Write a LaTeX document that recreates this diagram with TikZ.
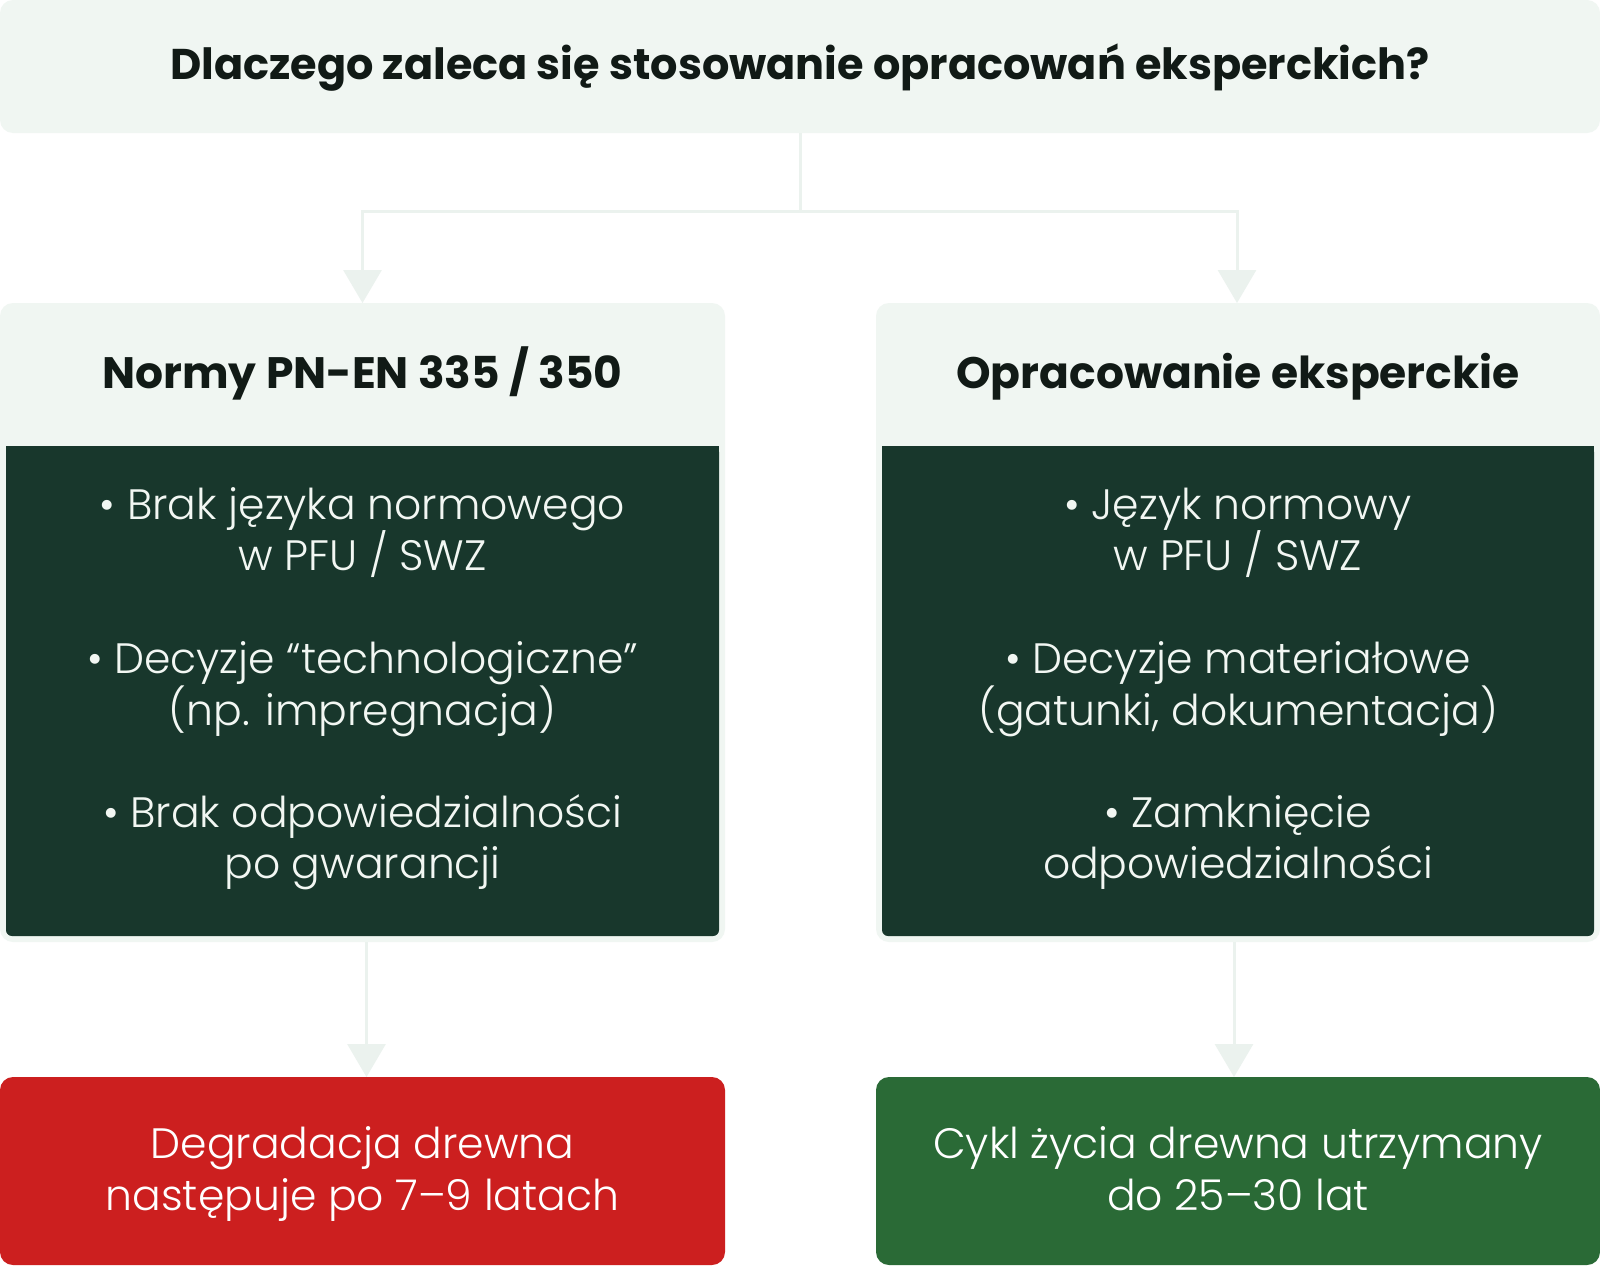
\documentclass[tikz,border=0pt]{standalone}
\usepackage{fontspec}
\setmainfont{Poppins}
\newfontfamily\lightfont{Poppins Light}
\usetikzlibrary{arrows.meta}
\definecolor{lightbg}{HTML}{F0F6F2}
\definecolor{darkg}{HTML}{18372C}
\definecolor{redb}{HTML}{CC1F1F}
\definecolor{greenb}{HTML}{2A6A36}
\definecolor{ink}{HTML}{111A16}
\definecolor{paper}{HTML}{F2F7F3}
\definecolor{conncol}{HTML}{EBF2EE}
\tikzset{
  boxbase/.style={inner sep=0pt, outer sep=0pt},
  lightbox/.style={boxbase, fill=lightbg, rounded corners=13pt},
  darkbox/.style={boxbase, fill=darkg, rounded corners=6pt},
  resultbox/.style={boxbase, rounded corners=13pt},
  titletext/.style={font=\fontsize{43}{52}\selectfont\bfseries, text=ink, anchor=base, inner sep=0pt},
  headtext/.style={font=\fontsize{44}{52}\selectfont\bfseries, text=ink, anchor=base, inner sep=0pt},
  bodytext/.style={font=\lightfont\fontsize{42.5}{51}\selectfont, text=paper, anchor=base, inner sep=0pt},
  restext/.style={font=\lightfont\fontsize{42.5}{52}\selectfont, text=white, anchor=base, inner sep=0pt},
  conn/.style={draw=conncol, line width=3pt, -{Triangle[width=38pt,length=33pt]}},
  connplain/.style={draw=conncol, line width=3pt},
}
\begin{document}
\begin{tikzpicture}[x=1pt,y=-1pt]
\useasboundingbox (0,0) rectangle (1600,1266);
\fill[white] (0,0) rectangle (1600,1266);

% top question box
\node[lightbox, minimum width=1600pt, minimum height=133pt] (top) at (800,66.5) {};
\node[titletext] (title) at (800,79.5) {Dlaczego zaleca się stosowanie opracowań eksperckich?};

% panels
\node[lightbox, minimum width=725pt, minimum height=639pt] (lpanel) at (362.5,622.5) {};
\node[lightbox, minimum width=724pt, minimum height=639pt] (rpanel) at (1238,622.5) {};
\node[darkbox, minimum width=713pt, minimum height=490pt] (lbody) at (362.5,691) {};
\node[darkbox, minimum width=712pt, minimum height=490pt] (rbody) at (1238,691) {};
\fill[darkg] (lbody.north west) rectangle ([yshift=-12pt]lbody.north east);
\fill[darkg] (rbody.north west) rectangle ([yshift=-12pt]rbody.north east);

\node[headtext] (lhead) at (362.5,388) {Normy PN-EN 335 / 350};
\node[headtext] (rhead) at (1238,388) {Opracowanie eksperckie};

% left body lines
\node[bodytext] (l1) at (362.5,519) {• Brak języka normowego};
\node[bodytext] (l2) at (362.5,570.5) {w PFU / SWZ};
\node[bodytext] (l3) at (362.5,673.5) {• Decyzje “technologiczne”};
\node[bodytext] (l4) at (362.5,725) {(np. impregnacja)};
\node[bodytext] (l5) at (362.5,827) {• Brak odpowiedzialności};
\node[bodytext] (l6) at (362.5,878.5) {po gwarancji};

% right body lines
\node[bodytext] (r1) at (1238,519) {• Język normowy};
\node[bodytext] (r2) at (1238,570.5) {w PFU / SWZ};
\node[bodytext] (r3) at (1238,673.5) {• Decyzje materiałowe};
\node[bodytext] (r4) at (1238,725) {(gatunki, dokumentacja)};
\node[bodytext] (r5) at (1238,827) {• Zamknięcie};
\node[bodytext] (r6) at (1238,878.5) {odpowiedzialności};

% result boxes
\node[resultbox, fill=redb, minimum width=725pt, minimum height=188pt] (lres) at (362.5,1171) {};
\node[resultbox, fill=greenb, minimum width=724pt, minimum height=188pt] (rres) at (1238,1171) {};
\node[restext] (lres1) at (362.5,1158) {Degradacja drewna};
\node[restext] (lres2) at (362.5,1210) {następuje po 7–9 latach};
\node[restext] (rres1) at (1238,1158) {Cykl życia drewna utrzymany};
\node[restext] (rres2) at (1238,1210) {do 25–30 lat};

% connectors
\coordinate (split) at (800,211);
\draw[connplain] (top.south) -- (split);
\draw[conn] (split) -| (lpanel.north);
\draw[conn] (split) -| ([xshift=-1pt]rpanel.north);
\draw[conn] ([xshift=4pt]lpanel.south) -- ([xshift=4pt]lres.north);
\draw[conn] ([xshift=-4pt]rpanel.south) -- ([xshift=-4pt]rres.north);
\end{tikzpicture}
\end{document}
